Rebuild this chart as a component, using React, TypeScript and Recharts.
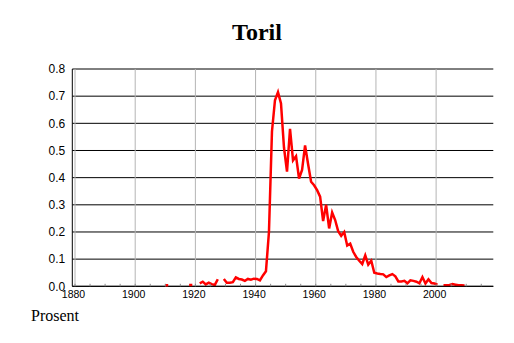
import { LineChart, Line, XAxis, YAxis, CartesianGrid, ReferenceLine } from 'recharts'

const firstYear = 1910
// share per year, null where no figure is given
const values: (number | null)[] = [
  0.004, null, null, null, null, null, null, null, 0.005, null, null,
  0.011, 0.017, 0.007, 0.013, 0.008, 0.005, 0.026, null,
  0.027, 0.013, 0.013, 0.015, 0.033, 0.027, 0.025, 0.02, 0.027, 0.024, 0.028,
  0.027, 0.022, 0.04, 0.055, 0.2, 0.57, 0.685, 0.715, 0.673, 0.51,
  0.422, 0.58, 0.464, 0.479, 0.397, 0.428, 0.519, 0.45, 0.385, 0.372,
  0.354, 0.33, 0.24, 0.3, 0.213, 0.272, 0.244, 0.203, 0.186, 0.2,
  0.15, 0.157, 0.127, 0.108, 0.094, 0.082, 0.114, 0.08, 0.094, 0.05,
  0.047, 0.045, 0.044, 0.034, 0.04, 0.045, 0.037, 0.018, 0.018, 0.02,
  0.011, 0.022, 0.02, 0.017, 0.011, 0.034, 0.01, 0.026, 0.012, 0.01,
  0.006, null, 0.004, 0.004, 0.005, 0.008, 0.006, 0.004, 0.004, 0.003,
]
const years = values.map((_, i) => firstYear + i)

const xTicks = [1880, 1885, 1890, 1895, 1900, 1905, 1910, 1915, 1920, 1925, 1930, 1935, 1940, 1945, 1950, 1955, 1960, 1965, 1970, 1975, 1980, 1985, 1990, 1995, 2000, 2005, 2010, 2015]
const xLabels = [1880, 1900, 1920, 1940, 1960, 1980, 2000]
const yTicks = [0, 0.1, 0.2, 0.3, 0.4, 0.5, 0.6, 0.7, 0.8]

// each year is drawn at mid-year
const data = years.map((y, i) => ({ year: y, pos: y + 0.45, value: values[i] }))

const isolated = (i: number) =>
  values[i] != null && values[i - 1] == null && values[i + 1] == null

function XTick(props: any) {
  const { x, y, payload } = props
  const v = payload.value
  return (
    <g>
      <line x1={x} x2={x} y1={y - 2.5} y2={y} stroke="#888" />
      {xLabels.includes(v) && (
        <text x={x - 1.5} y={y + 11.4} textAnchor="middle" fontSize={10.5} fill="#000"
          fontFamily="'Liberation Sans', Arial, sans-serif">
          {v}
        </text>
      )}
    </g>
  )
}

function Dash(props: any) {
  const { cx, cy, index } = props
  if (!isolated(index) || cx == null || cy == null) return <g key={index} />
  return <line key={index} x1={cx - 1.6} x2={cx + 1.6} y1={cy} y2={cy} stroke="#ff0000" strokeWidth={2.5} />
}

export default function App() {
  return (
    <div style={{ position: 'absolute', left: 0, top: 0, width: 514, height: 343, background: '#fff' }}>
      <div style={{
        position: 'absolute', left: 0, width: 514, top: 20, textAlign: 'center',
        fontFamily: "'Liberation Serif', 'Times New Roman', serif", fontWeight: 'bold',
        fontSize: 24, lineHeight: '24px', color: '#000',
      }}>
        Toril
      </div>
      <div style={{
        position: 'absolute', left: 31, top: 308,
        fontFamily: "'Liberation Serif', 'Times New Roman', serif",
        fontSize: 16, lineHeight: '16px', color: '#000',
      }}>
        Prosent
      </div>
      <LineChart width={514} height={343} data={data}
        margin={{ top: 69, right: 20.7, bottom: 26.7, left: 0 }}>
        <CartesianGrid vertical={false} stroke="#000" />
        {xLabels.map(v => (
          <ReferenceLine key={v} x={v} stroke="#b4b4b4" />
        ))}
        <XAxis dataKey="pos" type="number" domain={[1879.1, 2019]} allowDataOverflow
          ticks={xTicks} interval={0} height={30} tickSize={0} tickMargin={0}
          tickLine={false} axisLine={{ stroke: '#000' }} tick={<XTick />} />
        <YAxis type="number" domain={[0, 0.8]} ticks={yTicks} width={72.3}
          tickSize={0} tickMargin={7} tickLine={false} axisLine={{ stroke: '#000' }}
          tickFormatter={(v: number) => v.toFixed(1)}
          tick={{ fontSize: 12, fill: '#000', fontFamily: "'Liberation Sans', Arial, sans-serif" }} />
        <Line type="linear" dataKey="value" stroke="#ff0000" strokeWidth={2.5}
          dot={Dash} activeDot={false} connectNulls={false} isAnimationActive={false} />
      </LineChart>
    </div>
  )
}
